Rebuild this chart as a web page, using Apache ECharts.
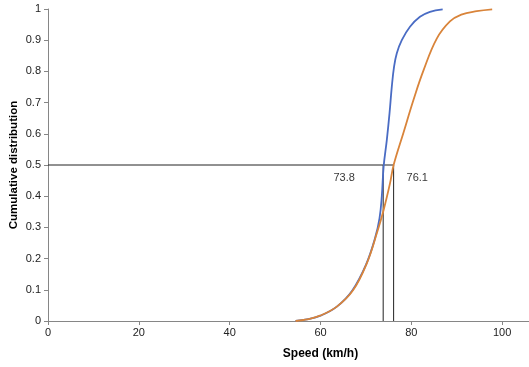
<!DOCTYPE html>
<html><head><meta charset="utf-8">
<script src="https://cdn.jsdelivr.net/npm/echarts@6/dist/echarts.min.js"></script>
<style>html,body{margin:0;padding:0;background:#fff}#c{width:529px;height:367px}</style>
</head><body><div id="c"></div>
<script>
var blueCurve = [[54.5,0],[57,0.005],[60,0.017],[63.6,0.046],[67,0.098],[70,0.18],[72,0.265],[73,0.33],[73.5,0.4],[73.9,0.495],[74.6,0.58],[75.2,0.666],[75.7,0.751],[76.2,0.815],[76.8,0.858],[77.9,0.9],[79.7,0.943],[81.9,0.975],[84.1,0.991],[86.9,0.999]];
var orangeCurve = [[54.5,0],[57,0.005],[59.9,0.017],[63.6,0.046],[67.2,0.099],[70.2,0.185],[72.4,0.281],[73.9,0.356],[75.3,0.441],[76.1,0.5],[78.3,0.605],[80.5,0.71],[82.7,0.804],[85.6,0.905],[88.5,0.96],[91,0.982],[94.4,0.993],[97.8,0.999]];
var medianLevel = 0.5;
var blueMedian = 73.8;
var orangeMedian = 76.1;
var labelTexts = ['73.8','76.1'];
var labelPos = [[65.2,0.458],[81.3,0.458]];
var xTicks = [0,20,40,60,80,100,120];
var yTicks = [0,0.1,0.2,0.3,0.4,0.5,0.6,0.7,0.8,0.9,1];

var chart = echarts.init(document.getElementById('c'));
var font = 'Liberation Sans, Arial, sans-serif';
chart.setOption({
  animation:false,
  grid:{left:48, top:9, width:545, height:312, containLabel:false, outerBoundsMode:'none'},
  xAxis:{type:'value', min:0, max:120, interval:20,
    name:'Speed (km/h)', nameLocation:'middle', nameGap:27, nameMoveOverlap:false,
    nameTextStyle:{fontWeight:'bold', fontSize:12, color:'#000', fontFamily:font},
    axisLine:{lineStyle:{color:'#868686', width:1}},
    axisTick:{show:true, length:4, lineStyle:{color:'#868686'}},
    axisLabel:{fontSize:11, color:'#222', fontFamily:font, margin:6,
      formatter:function(v){return xTicks.indexOf(v)>=0 ? String(v) : '';}},
    splitLine:{show:false}},
  yAxis:{type:'value', min:0, max:1, interval:0.1,
    name:'Cumulative distribution', nameLocation:'middle', nameGap:28, nameMoveOverlap:false,
    nameTextStyle:{fontWeight:'bold', fontSize:11.5, color:'#000', fontFamily:font},
    axisLine:{show:true, lineStyle:{color:'#868686', width:1}},
    axisTick:{show:true, length:4, lineStyle:{color:'#868686'}},
    axisLabel:{fontSize:11, color:'#222', fontFamily:font, margin:7,
      formatter:function(v){var r=Math.round(v*10)/10; return yTicks.indexOf(r)>=0 ? String(r) : '';}},
    splitLine:{show:false}},
  series:[
    {type:'line', data:[[0,medianLevel],[orangeMedian,medianLevel],[orangeMedian,0]], symbol:'none',
      lineStyle:{color:'#222', width:1}, z:1},
    {type:'line', data:[[blueMedian,medianLevel],[blueMedian,0]], symbol:'none',
      lineStyle:{color:'#222', width:1}, z:1},
    {type:'line', data:blueCurve, smooth:0.4, symbol:'none',
      lineStyle:{color:'#4A6CC4', width:1.8}, z:2},
    {type:'line', data:orangeCurve, smooth:0.4, symbol:'none',
      lineStyle:{color:'#D9843A', width:1.8}, z:3},
    {type:'scatter', symbolSize:0, z:4,
      data:labelPos.map(function(p,i){return {value:p, name:labelTexts[i]};}),
      label:{show:true, position:'inside', formatter:'{b}', fontSize:11, color:'#000', fontFamily:font}}
  ]
});
</script></body></html>
